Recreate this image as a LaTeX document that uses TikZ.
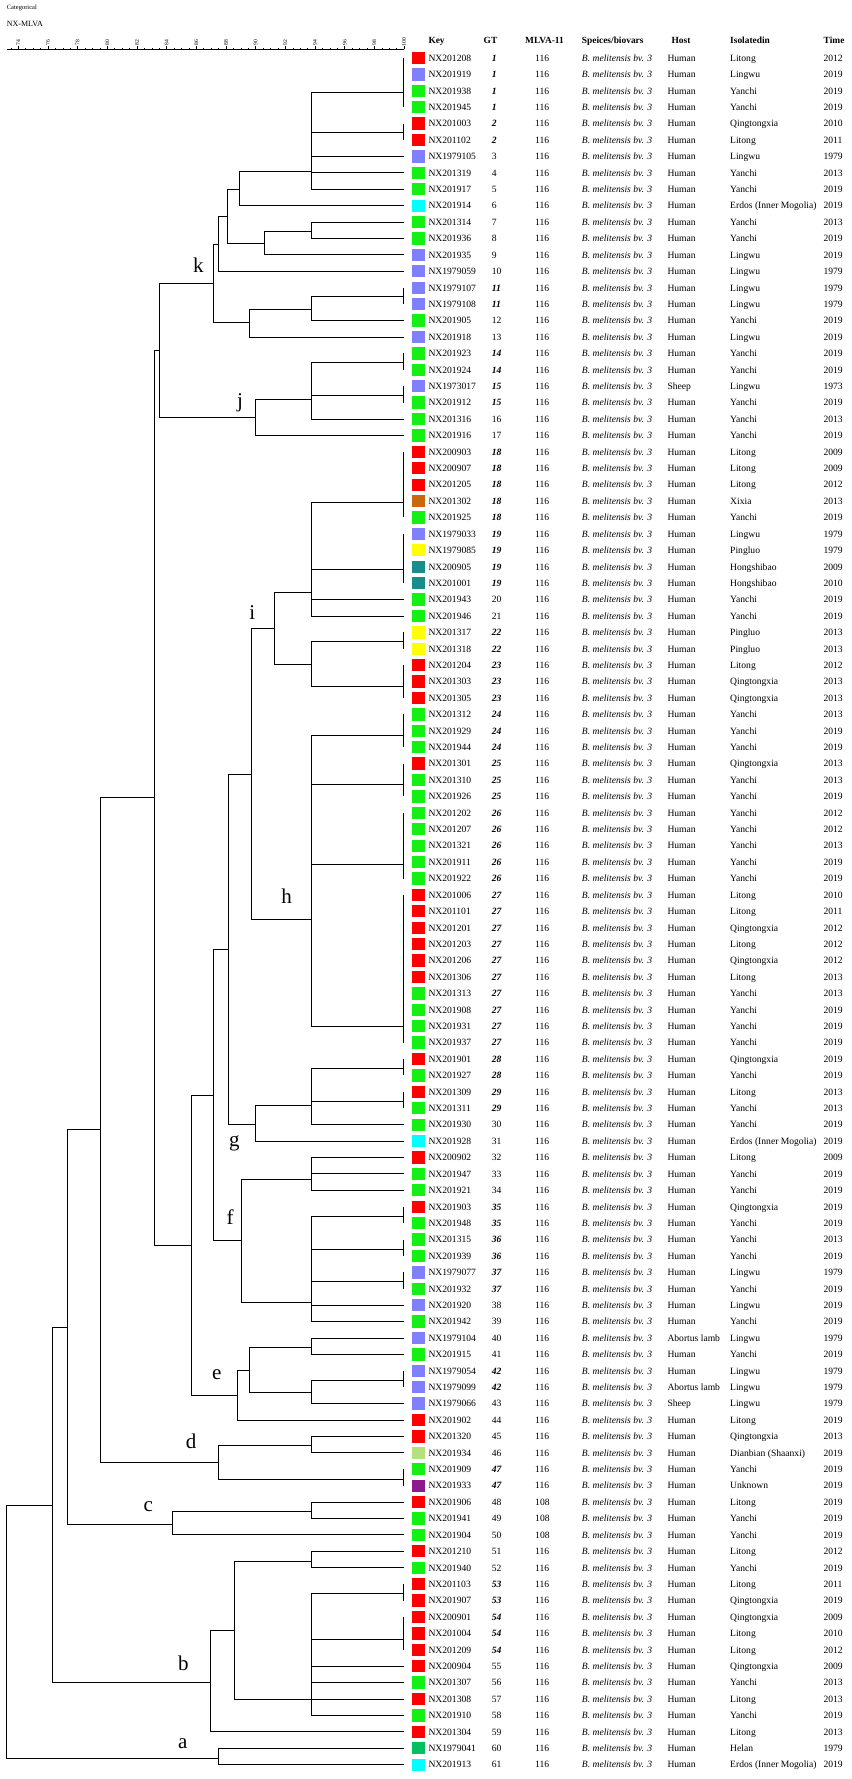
\documentclass[tikz,border=0pt]{standalone}
\usepackage{fontspec}
\setmainfont{Liberation Serif}
\definecolor{keyR}{RGB}{255,0,0}
\definecolor{keyB}{RGB}{128,128,255}
\definecolor{keyG}{RGB}{20,240,20}
\definecolor{keyC}{RGB}{0,255,255}
\definecolor{keyO}{RGB}{204,102,10}
\definecolor{keyY}{RGB}{255,255,0}
\definecolor{keyT}{RGB}{26,140,140}
\definecolor{keyL}{RGB}{180,225,125}
\definecolor{keyP}{RGB}{140,26,140}
\definecolor{keyS}{RGB}{0,192,96}
\tikzset{
  branch/.style={line width=0.85pt,black},
  keybox/.style={minimum width=13.3pt,minimum height=12.3pt,inner sep=0pt},
  cell/.style={anchor=base west,inner sep=0pt,font=\fontsize{9.6}{11}\selectfont},
  head/.style={anchor=base,inner sep=0pt,font=\fontsize{9.4}{11}\selectfont\bfseries},
  clade/.style={inner sep=0pt,font=\fontsize{21}{24}\selectfont},
  scalelab/.style={inner sep=0pt,rotate=90,font=\fontsize{5.6}{6}\selectfont},
}
\begin{document}
\begin{tikzpicture}[x=1pt,y=-1pt]
\useasboundingbox (0,0) rectangle (851,1779);
\node[anchor=west,inner sep=0pt,font=\fontsize{6.5}{7}\selectfont] (cat) at (6.7,8.3) {Categorical};
\node[anchor=west,inner sep=0pt,font=\fontsize{8}{9}\selectfont] (exp) at (6.7,24.3) {NX-MLVA};
% similarity scale
\draw[line width=0.6pt] (7,49.3) -- (404,49.3);
\foreach \v in {73.5,74,...,100}
  \draw[line width=0.5pt] ({18.3+(\v-74)*14.835},49.3) -- ++(0,-1.6);
\foreach \v in {74,76,...,100} {
  \draw[line width=0.5pt] ({18.3+(\v-74)*14.835},49.3) -- ++(0,-3.6);
  \node[scalelab] (s\v) at ({18.3+(\v-74)*14.835},42.3) {\v};
}
% header
\node[head,anchor=base west] (hkey) at (428.3,44) {Key};
\node[head] (hgt) at (490.5,44) {GT};
\node[head] (hmlva) at (544.5,44) {MLVA-11};
\node[head,anchor=base west] (hsp) at (581.7,44) {Speices/biovars};
\node[head] (hhost) at (681,44) {Host};
\node[head,anchor=base west] (hiso) at (730,44) {Isolatedin};
\node[head,anchor=base west] (htime) at (823.5,44) {Time};
% rows
\foreach \key/\col/\gt/\dup/\mlva/\host/\place/\year [count=\n] in {
NX201208/R/1/1/116/Human/Litong/2012,
NX201919/B/1/1/116/Human/Lingwu/2019,
NX201938/G/1/1/116/Human/Yanchi/2019,
NX201945/G/1/1/116/Human/Yanchi/2019,
NX201003/R/2/1/116/Human/Qingtongxia/2010,
NX201102/R/2/1/116/Human/Litong/2011,
NX1979105/B/3/0/116/Human/Lingwu/1979,
NX201319/G/4/0/116/Human/Yanchi/2013,
NX201917/G/5/0/116/Human/Yanchi/2019,
NX201914/C/6/0/116/Human/Erdos (Inner Mogolia)/2019,
NX201314/G/7/0/116/Human/Yanchi/2013,
NX201936/G/8/0/116/Human/Yanchi/2019,
NX201935/B/9/0/116/Human/Lingwu/2019,
NX1979059/B/10/0/116/Human/Lingwu/1979,
NX1979107/B/11/1/116/Human/Lingwu/1979,
NX1979108/B/11/1/116/Human/Lingwu/1979,
NX201905/G/12/0/116/Human/Yanchi/2019,
NX201918/B/13/0/116/Human/Lingwu/2019,
NX201923/G/14/1/116/Human/Yanchi/2019,
NX201924/G/14/1/116/Human/Yanchi/2019,
NX1973017/B/15/1/116/Sheep/Lingwu/1973,
NX201912/G/15/1/116/Human/Yanchi/2019,
NX201316/G/16/0/116/Human/Yanchi/2013,
NX201916/G/17/0/116/Human/Yanchi/2019,
NX200903/R/18/1/116/Human/Litong/2009,
NX200907/R/18/1/116/Human/Litong/2009,
NX201205/R/18/1/116/Human/Litong/2012,
NX201302/O/18/1/116/Human/Xixia/2013,
NX201925/G/18/1/116/Human/Yanchi/2019,
NX1979033/B/19/1/116/Human/Lingwu/1979,
NX1979085/Y/19/1/116/Human/Pingluo/1979,
NX200905/T/19/1/116/Human/Hongshibao/2009,
NX201001/T/19/1/116/Human/Hongshibao/2010,
NX201943/G/20/0/116/Human/Yanchi/2019,
NX201946/G/21/0/116/Human/Yanchi/2019,
NX201317/Y/22/1/116/Human/Pingluo/2013,
NX201318/Y/22/1/116/Human/Pingluo/2013,
NX201204/R/23/1/116/Human/Litong/2012,
NX201303/R/23/1/116/Human/Qingtongxia/2013,
NX201305/R/23/1/116/Human/Qingtongxia/2013,
NX201312/G/24/1/116/Human/Yanchi/2013,
NX201929/G/24/1/116/Human/Yanchi/2019,
NX201944/G/24/1/116/Human/Yanchi/2019,
NX201301/R/25/1/116/Human/Qingtongxia/2013,
NX201310/G/25/1/116/Human/Yanchi/2013,
NX201926/G/25/1/116/Human/Yanchi/2019,
NX201202/G/26/1/116/Human/Yanchi/2012,
NX201207/G/26/1/116/Human/Yanchi/2012,
NX201321/G/26/1/116/Human/Yanchi/2013,
NX201911/G/26/1/116/Human/Yanchi/2019,
NX201922/G/26/1/116/Human/Yanchi/2019,
NX201006/R/27/1/116/Human/Litong/2010,
NX201101/R/27/1/116/Human/Litong/2011,
NX201201/R/27/1/116/Human/Qingtongxia/2012,
NX201203/R/27/1/116/Human/Litong/2012,
NX201206/R/27/1/116/Human/Qingtongxia/2012,
NX201306/R/27/1/116/Human/Litong/2013,
NX201313/G/27/1/116/Human/Yanchi/2013,
NX201908/G/27/1/116/Human/Yanchi/2019,
NX201931/G/27/1/116/Human/Yanchi/2019,
NX201937/G/27/1/116/Human/Yanchi/2019,
NX201901/R/28/1/116/Human/Qingtongxia/2019,
NX201927/G/28/1/116/Human/Yanchi/2019,
NX201309/R/29/1/116/Human/Litong/2013,
NX201311/G/29/1/116/Human/Yanchi/2013,
NX201930/G/30/0/116/Human/Yanchi/2019,
NX201928/C/31/0/116/Human/Erdos (Inner Mogolia)/2019,
NX200902/R/32/0/116/Human/Litong/2009,
NX201947/G/33/0/116/Human/Yanchi/2019,
NX201921/G/34/0/116/Human/Yanchi/2019,
NX201903/R/35/1/116/Human/Qingtongxia/2019,
NX201948/G/35/1/116/Human/Yanchi/2019,
NX201315/G/36/1/116/Human/Yanchi/2013,
NX201939/G/36/1/116/Human/Yanchi/2019,
NX1979077/B/37/1/116/Human/Lingwu/1979,
NX201932/G/37/1/116/Human/Yanchi/2019,
NX201920/B/38/0/116/Human/Lingwu/2019,
NX201942/G/39/0/116/Human/Yanchi/2019,
NX1979104/B/40/0/116/Abortus lamb/Lingwu/1979,
NX201915/G/41/0/116/Human/Yanchi/2019,
NX1979054/B/42/1/116/Human/Lingwu/1979,
NX1979099/B/42/1/116/Abortus lamb/Lingwu/1979,
NX1979066/B/43/0/116/Sheep/Lingwu/1979,
NX201902/R/44/0/116/Human/Litong/2019,
NX201320/R/45/0/116/Human/Qingtongxia/2013,
NX201934/L/46/0/116/Human/Dianbian (Shaanxi)/2019,
NX201909/G/47/1/116/Human/Yanchi/2019,
NX201933/P/47/1/116/Human/Unknown/2019,
NX201906/R/48/0/108/Human/Litong/2019,
NX201941/G/49/0/108/Human/Yanchi/2019,
NX201904/G/50/0/108/Human/Yanchi/2019,
NX201210/R/51/0/116/Human/Litong/2012,
NX201940/G/52/0/116/Human/Yanchi/2019,
NX201103/R/53/1/116/Human/Litong/2011,
NX201907/R/53/1/116/Human/Qingtongxia/2019,
NX200901/R/54/1/116/Human/Qingtongxia/2009,
NX201004/R/54/1/116/Human/Litong/2010,
NX201209/R/54/1/116/Human/Litong/2012,
NX200904/R/55/0/116/Human/Qingtongxia/2009,
NX201307/G/56/0/116/Human/Yanchi/2013,
NX201308/R/57/0/116/Human/Litong/2013,
NX201910/G/58/0/116/Human/Yanchi/2019,
NX201304/R/59/0/116/Human/Litong/2013,
NX1979041/S/60/0/116/Human/Helan/1979,
NX201913/C/61/0/116/Human/Erdos (Inner Mogolia)/2019} {
  \pgfmathsetmacro\y{58+(\n-1)*16.41}
  \coordinate (r\n) at (403.5,\y);
  \node[keybox,fill=key\col] (sq\n) at (418.3,\y) {};
  \node[cell] (id\n) at (428.3,\y+3.3) {\key};
  \node[cell] (gt\n) at (491.7,\y+3.3) {\ifnum\dup=1 \bfseries\itshape\fi\gt};
  \node[cell] (ml\n) at (535,\y+3.3) {\mlva};
  \node[cell] (sp\n) at (581.7,\y+3.3) {\itshape B. melitensis bv. 3};
  \node[cell] (ho\n) at (667.3,\y+3.3) {\host};
  \node[cell] (pl\n) at (730,\y+3.3) {\place};
  \node[cell] (yr\n) at (823.3,\y+3.3) {\year};
}
% identical types: bar over the rows, joining point
\foreach \g/\a/\b/\h in {gt1/1/4/92.3, gt2/5/6/132.3, gt11/15/16/296.7,
  gt14/19/20/362.3, gt15/21/22/395, gt18/25/29/502.7, gt19/30/33/569.3,
  gt22/36/37/641.7, gt23/38/40/686.7, gt24/41/43/735.7, gt25/44/46/784.7,
  gt26/47/51/864, gt27/52/61/1026.7, gt28/62/63/1068.3, gt29/64/65/1101,
  gt35/71/72/1216, gt36/73/74/1249, gt37/75/76/1281.7, gt42/81/82/1380.3,
  gt47/87/88/1479, gt53/94/95/1593.3, gt54/96/98/1639} {
  \coordinate (\g) at (403.5,\h);
  \draw[branch] (r\a) -- (r\b);
}
% tree joints
\coordinate (A) at (311,171.7);
\coordinate (B) at (239.3,189);
\coordinate (E) at (311,231);
\coordinate (D) at (264.7,243.3);
\coordinate (C) at (227.7,216);
\coordinate (F) at (218.3,244);
\coordinate (I) at (311,309);
\coordinate (H) at (249,322.7);
\coordinate (ck) at (213.3,283);
\coordinate (L) at (311,399);
\coordinate (cj) at (255.7,417.7);
\coordinate (J) at (159.7,350);
\coordinate (N1) at (311,592.7);
\coordinate (N2) at (311,664);
\coordinate (ci) at (274,628.3);
\coordinate (ch) at (311,919.3);
\coordinate (O) at (251,774);
\coordinate (Q) at (311,1105.3);
\coordinate (cg) at (255.7,1124);
\coordinate (P) at (228.3,949);
\coordinate (S) at (311,1179.3);
\coordinate (T) at (311,1302.7);
\coordinate (cf) at (241.7,1240.7);
\coordinate (R) at (213.7,1095);
\coordinate (V) at (311,1347.7);
\coordinate (W) at (311,1392.3);
\coordinate (U) at (249.3,1370);
\coordinate (ce) at (237,1395.7);
\coordinate (N) at (191.3,1245);
\coordinate (M) at (154,797.7);
\coordinate (Y) at (311,1445.7);
\coordinate (cd) at (218.7,1462.7);
\coordinate (X) at (100.3,1129.7);
\coordinate (AA) at (311,1511.7);
\coordinate (cc) at (172.3,1524);
\coordinate (Z) at (67.3,1327.3);
\coordinate (AD) at (311,1561);
\coordinate (AE) at (311,1699.3);
\coordinate (AC) at (234.3,1630.3);
\coordinate (cb) at (210.3,1682);
\coordinate (AB) at (52.3,1505);
\coordinate (ca) at (218.7,1758.3);
\coordinate (root) at (6.7,1631.7);
\foreach \p/\c in {A/gt1, A/gt2, A/r7, A/r8, A/r9, B/A, B/r10, E/r11, E/r12,
  D/E, D/r13, C/B, C/D, F/C, F/r14, I/gt11, I/r17, H/I, H/r18, ck/F, ck/H,
  L/gt14, L/gt15, L/r23, cj/L, cj/r24, J/ck, J/cj,
  N1/gt18, N1/gt19, N1/r34, N1/r35, N2/gt22, N2/gt23, ci/N1, ci/N2,
  ch/gt24, ch/gt25, ch/gt26, ch/gt27, O/ci, O/ch,
  Q/gt28, Q/gt29, Q/r66, cg/Q, cg/r67, P/O, P/cg,
  S/r68, S/r69, S/r70, T/gt35, T/gt36, T/gt37, T/r77, T/r78, cf/S, cf/T,
  R/P, R/cf, V/r79, V/r80, W/gt42, W/r83, U/V, U/W, ce/U, ce/r84,
  N/R, N/ce, M/J, M/N, Y/r85, Y/r86, cd/Y, cd/gt47, X/M, X/cd,
  AA/r89, AA/r90, cc/AA, cc/r91, Z/X, Z/cc,
  AD/r92, AD/r93, AE/gt53, AE/gt54, AE/r99, AE/r100, AE/r101, AE/r102,
  AC/AD, AC/AE, cb/AC, cb/r103, AB/Z, AB/cb, ca/r104, ca/r105,
  root/AB, root/ca}
  \draw[branch] (\p) |- (\c);
% clade letters
\node[clade] (lk) at (198.3,265) {k};
\node[clade] (lj) at (240,403) {j};
\node[clade] (li) at (252.3,612.7) {i};
\node[clade] (lh) at (286.7,896.7) {h};
\node[clade] (lg) at (234.3,1143.3) {g};
\node[clade] (lf) at (230,1217.3) {f};
\node[clade] (le) at (216.7,1375) {e};
\node[clade] (ld) at (191,1441.7) {d};
\node[clade] (lc) at (148.3,1506.7) {c};
\node[clade] (lb) at (183.3,1663.3) {b};
\node[clade] (la) at (182.7,1743.3) {a};
\end{tikzpicture}
\end{document}
